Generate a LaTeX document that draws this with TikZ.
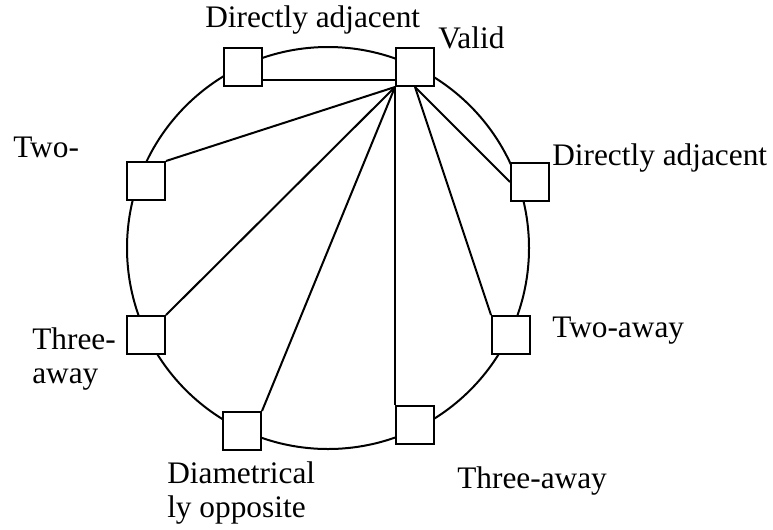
\documentclass[tikz,border=0pt]{standalone}
\usepackage{fontspec}
\setmainfont{Liberation Serif}
\tikzset{
  slot/.style={draw, fill=white, minimum size=28.5pt, inner sep=0pt, line width=1.5pt},
  tag/.style={anchor=base west, inner sep=0pt, align=left, font=\fontsize{23.5}{25.5}\selectfont},
  link/.style={line width=1.5pt}
}
\begin{document}
\begin{tikzpicture}[x=0.75pt, y=-0.75pt]
  \useasboundingbox (0,0) rectangle (773,529);
  % ring
  \coordinate (hub) at (328,248);
  \draw[link] (hub) circle[radius=150.75pt];
  % stations on the ring
  \node[slot] (valid) at (415,67) {};
  \node[slot] (adjL) at (243,67) {};
  \node[slot] (adjR) at (530,182) {};
  \node[slot] (twoR) at (511,335) {};
  \node[slot] (threeR) at (415,425) {};
  \node[slot] (opp) at (242,431) {};
  \node[slot] (threeL) at (146,335) {};
  \node[slot] (twoL) at (146,181) {};
  % labels (base = last line)
  \node[tag] (adjLTxt) at (205,27) {Directly adjacent};
  \node[tag] (validTxt) at (438,48) {Valid};
  \node[tag] (adjRTxt) at (552,165) {Directly adjacent};
  \node[tag] (twoLTxt) at (13,157) {Two-};
  \node[tag] (twoRTxt) at (552,337) {Two-away};
  \node[tag] (threeLTxt) at (32,383) {Three-\\away};
  \node[tag] (oppTxt) at (167,517) {Diametrical\\ly opposite};
  \node[tag] (threeRTxt) at (457,488) {Three-away};
  % chords from the valid station
  \draw[link] (adjL.-34) -- (valid.-146);
  \draw[link] (valid.south west) -- (twoL.north east);
  \draw[link] (valid.south west) -- (threeL.north east);
  \draw[link] (valid.south west) -- (opp.north east);
  \draw[link] (valid.south west) -- (threeR.north west);
  \draw[link] (valid.south) -- (adjR.west);
  \draw[link] (valid.south) -- (twoR.north west);
\end{tikzpicture}
\end{document}
